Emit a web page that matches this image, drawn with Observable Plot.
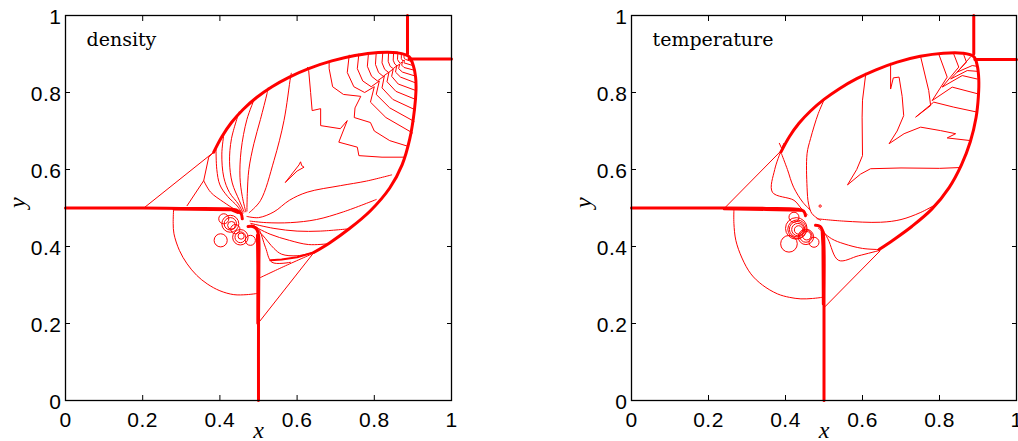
<!DOCTYPE html>
<html><head><meta charset="utf-8">
<script src="https://cdn.jsdelivr.net/npm/d3@7"></script>
<script src="https://cdn.jsdelivr.net/npm/@observablehq/plot@0.6"></script>
<style>
body{margin:0;background:#fff;}
#wrap{position:relative;width:1018px;height:441px;overflow:hidden;background:#fff;}
#left{position:absolute;left:0;top:0;}
#right{position:absolute;left:560px;top:0;}
</style></head><body><div id="wrap"><div id="left"></div><div id="right"></div></div>
<script>
// ---------- axis ticks ----------
const tickValues = [0, 0.2, 0.4, 0.6, 0.8, 1];
const tickLabels = ["0", "0.2", "0.4", "0.6", "0.8", "1"];
const panelTitles = ["density", "temperature"];
const axisNames = ["x", "y"];

// ---------- density panel ----------
const densitySlipH = [[0,0.5],[0.2,0.5],[0.3,0.499],[0.42,0.498],[0.442,0.495],[0.455,0.485],[0.458,0.472]];
const densitySlipH2 = [[0.28,0.496],[0.38,0.495],[0.43,0.494],[0.447,0.487]];
const densitySlipV = [[0.5,0],[0.5,0.2],[0.501,0.35],[0.5,0.43],[0.495,0.445],[0.485,0.452],[0.473,0.452]];
const densitySlipV2 = [[0.497,0.2],[0.497,0.35],[0.496,0.43]];
const densityMachV = [[0.886,1],[0.886,0.9]];
const densityMachH = [[0.89,0.887],[1,0.887]];
const densityBubble = [[0.384,0.645],[0.405,0.685],[0.43,0.722],[0.46,0.756],[0.495,0.787],[0.535,0.815],[0.58,0.84],[0.63,0.862],[0.69,0.882],[0.75,0.896],[0.81,0.904],[0.86,0.903],[0.89,0.893],[0.901,0.87],[0.907,0.84],[0.908,0.805],[0.904,0.755],[0.892,0.68],[0.872,0.612],[0.84,0.552],[0.79,0.493],[0.735,0.446],[0.685,0.41],[0.644,0.385]];
const densityBubbleTail = [[0.644,0.385],[0.6,0.372],[0.56,0.366],[0.531,0.364]];

const densityOblique1 = [[0.203,0.5],[0.384,0.645]];
const densityOblique2 = [[0.501,0.203],[0.644,0.385]];
const densityHalfCircle = [[0.28,0.497],[0.279,0.46],[0.281,0.433],[0.295,0.39],[0.315,0.355],[0.34,0.325],[0.367,0.303],[0.4,0.285],[0.436,0.275],[0.47,0.275],[0.497,0.278]];
const densityLowLine = [[0.502,0.318],[0.57,0.35],[0.644,0.383]];
const densityLeftLine = [[0.315,0.506],[0.358,0.571],[0.371,0.632],[0.384,0.645]];
const densityLeftBranch = [[0.358,0.571],[0.376,0.541],[0.41,0.515],[0.44,0.495],[0.453,0.485]];
const densityF1 = [[0.39,0.652],[0.392,0.6],[0.4,0.56],[0.42,0.53],[0.445,0.505],[0.458,0.485]];
const densityF2 = [[0.41,0.69],[0.405,0.64],[0.41,0.58],[0.425,0.54],[0.448,0.51],[0.46,0.487]];
const densityF3 = [[0.45,0.75],[0.43,0.68],[0.425,0.62],[0.432,0.565],[0.45,0.52],[0.463,0.49]];
const densityF4 = [[0.49,0.785],[0.47,0.73],[0.455,0.65],[0.452,0.58],[0.458,0.53],[0.467,0.49]];
const densityF5 = [[0.525,0.812],[0.522,0.797],[0.505,0.73],[0.488,0.667],[0.475,0.6],[0.471,0.537],[0.47,0.492]];
const densityF6 = [[0.585,0.85],[0.583,0.84],[0.566,0.727],[0.54,0.623],[0.505,0.519],[0.476,0.488]];
const densityV1 = [[0.47,0.478],[0.5,0.475],[0.54,0.49],[0.58,0.52],[0.626,0.541],[0.712,0.558],[0.78,0.57],[0.845,0.586]];
const densityV2 = [[0.478,0.466],[0.52,0.462],[0.583,0.462],[0.65,0.47],[0.72,0.49],[0.805,0.522]];
const densityV3 = [[0.48,0.46],[0.54,0.447],[0.6,0.44],[0.66,0.44],[0.735,0.446]];
const densityV4 = [[0.482,0.456],[0.53,0.432],[0.58,0.416],[0.63,0.405],[0.68,0.407]];
const densityV5 = [[0.484,0.455],[0.51,0.43],[0.54,0.395],[0.56,0.38],[0.6,0.376],[0.644,0.385]];
const densityV6 = [[0.486,0.455],[0.5,0.446],[0.518,0.398],[0.535,0.359],[0.583,0.359]];
const densityLoop = [[0.57,0.567],[0.605,0.612],[0.609,0.62],[0.612,0.61],[0.618,0.606],[0.6,0.596],[0.57,0.567]];
const densityU1 = [[0.627,0.865],[0.63,0.857],[0.635,0.8],[0.639,0.753],[0.661,0.758],[0.661,0.714],[0.712,0.706],[0.73,0.727],[0.708,0.671],[0.756,0.658],[0.76,0.636],[0.82,0.632],[0.877,0.632]];
const densityU2 = [[0.683,0.88],[0.683,0.862],[0.692,0.815],[0.72,0.795],[0.765,0.79],[0.75,0.76],[0.748,0.735],[0.79,0.722],[0.8,0.7],[0.84,0.675],[0.888,0.66]];
const densityR15 = [[0.735,0.897],[0.73,0.852],[0.747,0.815],[0.775,0.8],[0.8,0.815],[0.79,0.775],[0.83,0.735],[0.899,0.695]];
const densityR125 = [[0.76,0.9],[0.756,0.862],[0.77,0.83],[0.792,0.815],[0.813,0.83],[0.805,0.795],[0.84,0.76],[0.903,0.725]];
const densityR10 = [[0.785,0.903],[0.782,0.868],[0.793,0.842],[0.808,0.83],[0.826,0.843],[0.82,0.812],[0.848,0.782],[0.906,0.755]];
const densityR08 = [[0.805,0.904],[0.803,0.873],[0.811,0.852],[0.823,0.842],[0.838,0.853],[0.833,0.828],[0.856,0.803],[0.907,0.782]];
const densityR063 = [[0.822,0.904],[0.82,0.877],[0.827,0.86],[0.837,0.852],[0.849,0.861],[0.845,0.842],[0.862,0.822],[0.908,0.805]];
const densityR048 = [[0.837,0.904],[0.836,0.881],[0.841,0.868],[0.849,0.862],[0.858,0.869],[0.855,0.853],[0.868,0.84],[0.907,0.825]];
const densityR035 = [[0.85,0.903],[0.849,0.884],[0.853,0.874],[0.859,0.869],[0.866,0.874],[0.863,0.862],[0.873,0.853],[0.905,0.843]];
const densityR024 = [[0.861,0.902],[0.86,0.886],[0.864,0.879],[0.868,0.876],[0.873,0.88],[0.871,0.871],[0.877,0.865],[0.903,0.858]];
const densityR015 = [[0.87,0.9],[0.87,0.888],[0.874,0.882],[0.878,0.884],[0.877,0.877],[0.9,0.87]];
const densityR008 = [[0.877,0.898],[0.877,0.89],[0.881,0.886],[0.897,0.88]];
// vortex rings: [x, y, radius]
const densityRings = [[0.427,0.459,0.022],[0.427,0.459,0.016],[0.43,0.455,0.01],[0.453,0.424,0.02],[0.453,0.424,0.014],[0.455,0.427,0.008],[0.402,0.416,0.017],[0.479,0.416,0.013],[0.41,0.472,0.013],[0.44,0.445,0.012]];

// ---------- temperature panel ----------
const tempSlipH = [[0,0.5],[0.24,0.5],[0.35,0.499],[0.43,0.497],[0.447,0.492],[0.452,0.48]];
const tempSlipH2 = [[0.24,0.497],[0.35,0.495],[0.44,0.493]];
const tempSlipV = [[0.5,0],[0.5,0.25],[0.5,0.4],[0.497,0.44],[0.49,0.452],[0.478,0.455]];
const tempSlipV2 = [[0.497,0.25],[0.496,0.4],[0.494,0.44]];
const tempMachV = [[0.889,1],[0.889,0.9]];
const tempMachH = [[0.892,0.886],[1,0.886]];
const tempBubble = [[0.388,0.645],[0.41,0.685],[0.435,0.72],[0.465,0.752],[0.5,0.782],[0.54,0.81],[0.585,0.836],[0.635,0.859],[0.69,0.879],[0.75,0.894],[0.81,0.902],[0.86,0.902],[0.889,0.893],[0.898,0.87],[0.902,0.835],[0.901,0.79],[0.895,0.735],[0.88,0.672],[0.857,0.612],[0.825,0.553],[0.78,0.497],[0.728,0.452],[0.68,0.417],[0.643,0.392]];

const tempOblique1 = [[0.242,0.5],[0.388,0.648]];
const tempOblique2 = [[0.503,0.244],[0.645,0.388]];
const tempHalfCircle = [[0.266,0.494],[0.266,0.46],[0.271,0.416],[0.287,0.37],[0.31,0.329],[0.34,0.3],[0.379,0.277],[0.41,0.268],[0.44,0.264],[0.47,0.265],[0.496,0.268]];
const tempA = [[0.387,0.645],[0.372,0.6],[0.366,0.541],[0.422,0.52],[0.44,0.5],[0.457,0.482]];
const tempB = [[0.39,0.64],[0.405,0.6],[0.421,0.554],[0.445,0.515],[0.465,0.494]];
const tempC = [[0.5,0.78],[0.485,0.745],[0.465,0.68],[0.456,0.641],[0.456,0.554],[0.46,0.51],[0.469,0.485],[0.491,0.468]];
const tempD = [[0.482,0.472],[0.55,0.466],[0.647,0.463],[0.7,0.47],[0.75,0.488],[0.785,0.506]];
const tempE = [[0.485,0.448],[0.52,0.42],[0.552,0.407],[0.6,0.395],[0.647,0.392]];
const tempF = [[0.49,0.455],[0.51,0.42],[0.538,0.364],[0.59,0.376],[0.645,0.39]];
const tempT0 = [[0.608,0.85],[0.608,0.845],[0.6,0.78],[0.599,0.736],[0.6,0.636],[0.585,0.6],[0.561,0.56],[0.595,0.588],[0.621,0.602],[0.7,0.604],[0.8,0.603],[0.852,0.605]];
const tempT1 = [[0.673,0.876],[0.673,0.809],[0.68,0.838],[0.695,0.84],[0.703,0.79],[0.707,0.74],[0.69,0.7],[0.669,0.667],[0.708,0.693],[0.751,0.71],[0.803,0.701],[0.842,0.693],[0.82,0.682],[0.881,0.675]];
const tempT2 = [[0.751,0.893],[0.772,0.805],[0.777,0.766],[0.738,0.736],[0.785,0.775],[0.837,0.762],[0.898,0.749]];
const tempT3 = [[0.798,0.9],[0.82,0.84],[0.781,0.779],[0.833,0.814],[0.898,0.797]];
const tempT4 = [[0.837,0.9],[0.85,0.866],[0.807,0.814],[0.859,0.844],[0.898,0.835]];
const tempT5 = [[0.863,0.898],[0.87,0.879],[0.829,0.835],[0.872,0.857],[0.898,0.855]];
const tempT6 = [[0.881,0.893],[0.846,0.853],[0.885,0.87],[0.898,0.868]];
const tempMark = [[0.384,0.668],[0.39,0.655],[0.396,0.668]];
const tempRings = [[0.428,0.447,0.028],[0.43,0.445,0.024],[0.43,0.445,0.02],[0.432,0.444,0.016],[0.434,0.443,0.011],[0.453,0.425,0.02],[0.453,0.427,0.016],[0.455,0.428,0.011],[0.409,0.407,0.0216],[0.474,0.411,0.013],[0.422,0.476,0.013],[0.49,0.505,0.003]];

// ---------- drawing ----------
const X = d => d[0], Y = d => d[1];
function lines(list, strokeWidth, curve) {
  return list.map(l => Plot.line(l, {x: X, y: Y, stroke: "#ff0000", strokeWidth, curve, strokeLinejoin: "round", strokeLinecap: "round"}));
}
const fmt = d => tickLabels[tickValues.indexOf(d)];
const blank = () => "";

function setFont(el, family, size, italic, spacing) {
  el.style.setProperty("font-family", family, "important");
  el.style.setProperty("font-size", size, "important");
  el.style.setProperty("font-style", italic ? "italic" : "normal", "important");
  if (spacing) el.style.setProperty("letter-spacing", spacing);
}
function styleTexts(svg) {
  svg.querySelectorAll("text").forEach(t => {
    const s = t.textContent.trim();
    if (tickLabels.includes(s)) setFont(t, "'Liberation Sans', Arial, Helvetica, sans-serif", "21px", false, "0.5px");
    else if (panelTitles.includes(s)) setFont(t, "'DejaVu Serif', 'Liberation Serif', serif", "19px", false);
    else if (axisNames.includes(s)) setFont(t, "'Liberation Serif', 'DejaVu Serif', serif", "24px", true);
  });
  return svg;
}

function panel({width, marginLeft, marginRight, title, thick, medium, smooth, sharp, rings}) {
  const inner = width - marginLeft - marginRight;
  const svg = Plot.plot({
    width, height: 441, marginLeft, marginRight, marginTop: 15, marginBottom: 41,
    x: {domain: [0, 1]},
    y: {domain: [0, 1]},
    r: {type: "linear", domain: [0, 1], range: [0, inner]},
    style: {background: "white", color: "black", overflow: "visible"},
    marks: [
      ...lines(smooth, 1, "catmull-rom"),
      ...lines(sharp, 1, "linear"),
      Plot.dot(rings, {x: X, y: Y, r: d => d[2], stroke: "#ff0000", strokeWidth: 1, fill: "none"}),
      ...lines(medium, 2, "linear"),
      ...lines(thick, 3, "catmull-rom"),
      Plot.frame({stroke: "black", strokeWidth: 1.3}),
      Plot.axisX({anchor: "bottom", ticks: tickValues, tickSize: -5, tickFormat: blank, label: null}),
      Plot.axisX({anchor: "top", ticks: tickValues, tickSize: -5, tickFormat: blank, label: null}),
      Plot.axisY({anchor: "left", ticks: tickValues, tickSize: -5, tickFormat: blank, label: null}),
      Plot.axisY({anchor: "right", ticks: tickValues, tickSize: -5, tickFormat: blank, label: null}),
      Plot.text(tickValues, {x: d => d, text: fmt, frameAnchor: "bottom", dy: 12, lineAnchor: "top", textAnchor: "middle", fontSize: 21, fill: "black"}),
      Plot.text(tickValues, {y: d => d, text: fmt, frameAnchor: "left", dx: -4, dy: 1.5, lineAnchor: "middle", textAnchor: "end", fontSize: 21, fill: "black"}),
      Plot.text([title], {text: d => d, frameAnchor: "top-left", dx: 21, dy: 30, lineAnchor: "bottom", textAnchor: "start", fontSize: 19, fill: "black"}),
      Plot.text([axisNames[0]], {text: d => d, frameAnchor: "bottom", dy: 37, lineAnchor: "bottom", fontSize: 24, fill: "black"}),
      Plot.text([axisNames[1]], {text: d => d, frameAnchor: "left", dx: -48, rotate: -90, lineAnchor: "middle", fontSize: 24, fill: "black"})
    ]
  });
  return styleTexts(svg);
}

document.getElementById("left").append(panel({
  width: 470, marginLeft: 65, marginRight: 19, title: panelTitles[0],
  thick: [densitySlipH, densitySlipV, densityMachV, densityMachH, densityBubble],
  medium: [densitySlipH2, densitySlipV2, densityBubbleTail],
  smooth: [densityHalfCircle, densityLowLine, densityLeftBranch, densityF1, densityF2, densityF3, densityF4, densityF5, densityF6, densityV1, densityV2, densityV3, densityV4, densityV5, densityV6],
  sharp: [densityOblique1, densityOblique2, densityLeftLine, densityLoop, densityU1, densityU2, densityR15, densityR125, densityR10, densityR08, densityR063, densityR048, densityR035, densityR024, densityR015, densityR008],
  rings: densityRings
}));

document.getElementById("right").append(panel({
  width: 458, marginLeft: 71, marginRight: 2, title: panelTitles[1],
  thick: [tempSlipH, tempSlipV, tempMachV, tempMachH, tempBubble],
  medium: [tempSlipH2, tempSlipV2],
  smooth: [tempHalfCircle, tempA, tempB, tempC, tempD, tempE, tempF],
  sharp: [tempOblique1, tempOblique2, tempT0, tempT1, tempT2, tempT3, tempT4, tempT5, tempT6, tempMark],
  rings: tempRings
}));
</script></body></html>
